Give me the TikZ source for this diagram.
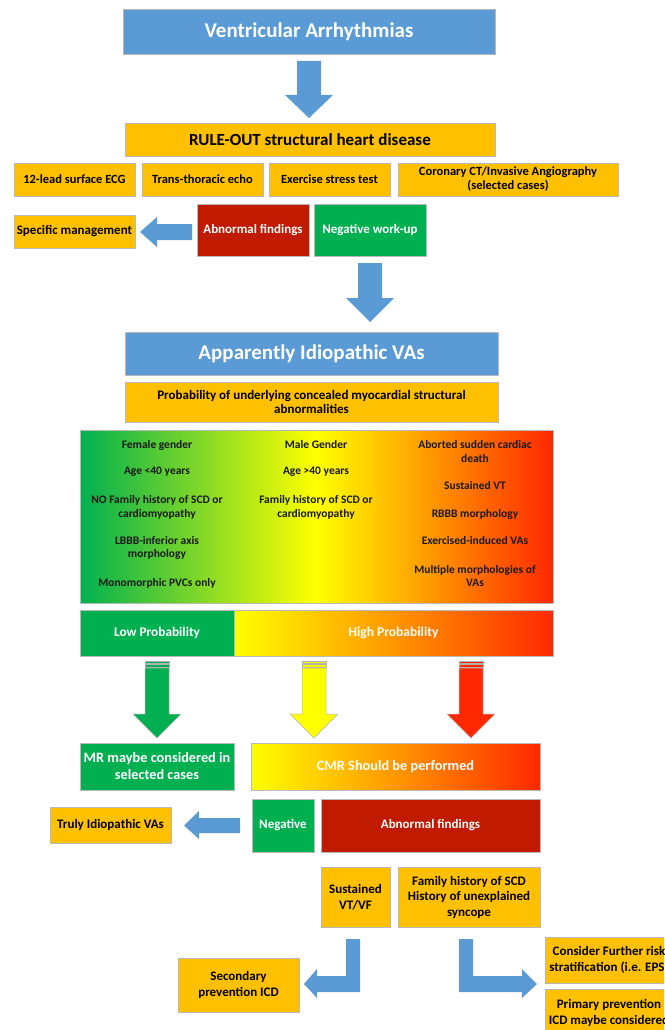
\documentclass[tikz,border=0pt]{standalone}
\usepackage{fontspec}
\setmainfont{Carlito}
\definecolor{cblue}{RGB}{91,155,213}
\definecolor{cgold}{RGB}{255,192,0}
\definecolor{cdred}{RGB}{192,26,0}
\definecolor{cgreen}{RGB}{0,176,80}
\definecolor{cyel}{RGB}{255,255,0}
\definecolor{cred}{RGB}{255,40,0}
\definecolor{corg}{RGB}{255,150,0}
\newcommand\mybox[7]{%
  \pgfmathsetmacro\bxw{#4-#2}\pgfmathsetmacro\bxh{#5-#3}%
  \pgfmathsetmacro\bxcx{(#2+#4)/2}\pgfmathsetmacro\bxcy{(#3+#5)/2}%
  \node[#6, minimum width=\bxw pt, minimum height=\bxh pt] (#1) at (\bxcx,\bxcy) {#7};}
\tikzset{
  base/.style={draw=gray!55, line width=0.6pt, inner sep=1pt, align=center, font=\bfseries\fontsize{12.5}{15}\selectfont},
  goldbox/.style={base, fill=cgold, text=black},
  bluebox/.style={base, fill=cblue, text=white, font=\bfseries\fontsize{21}{25}\selectfont},
  greenbox/.style={base, fill=cgreen, text=white},
  redbox/.style={base, fill=cdred, text=white},
  blockarrow/.style={fill=cblue, draw=none},
  colarrow/.style={draw=gray!60, line width=0.5pt},
  crit/.style={align=center, inner sep=0pt, font=\bfseries\fontsize{11.5}{13.8}\selectfont, text=black!90},
  f13/.style={font=\bfseries\fontsize{13}{15.5}\selectfont},
  f14/.style={font=\bfseries\fontsize{14.3}{17}\selectfont}
}
\begin{document}
\begin{tikzpicture}[x=1pt,y=-1pt]
\useasboundingbox (0,0) rectangle (664,1030);
\clip (0,0) rectangle (664,1030);
% top part
\mybox{title}{123}{9}{495}{54}{bluebox}{Ventricular Arrhythmias}
\fill[blockarrow] (297,61)--(321,61)--(321,95)--(333,95)--(309,118)--(285,95)--(297,95)--cycle;
\mybox{rule}{125}{123}{495}{156}{goldbox, font=\bfseries\fontsize{17}{20}\selectfont}{RULE-OUT structural heart disease}
\mybox{ecg}{14}{163}{135}{196}{goldbox}{12-lead surface ECG}
\mybox{echo}{142}{163}{263}{196}{goldbox}{Trans-thoracic echo}
\mybox{stress}{269}{163}{390}{196}{goldbox}{Exercise stress test}
\mybox{cor}{398}{163}{618}{196}{goldbox, font=\bfseries\fontsize{12.5}{14}\selectfont}{Coronary CT/Invasive Angiography\\(selected cases)}
\mybox{abn1}{197}{204}{309}{256}{redbox, f13}{Abnormal findings}
\mybox{neg1}{314}{204}{426}{256}{greenbox, f13}{Negative work-up}
\mybox{spec}{14}{215}{135}{248}{goldbox, f13}{Specific management}
\fill[blockarrow] (192,224)--(192,240)--(157,240)--(157,247)--(140,232)--(157,217)--(157,224)--cycle;
\fill[blockarrow] (358,263)--(382,263)--(382,298)--(394,298)--(370,322)--(346,298)--(358,298)--cycle;
% middle part
\mybox{app}{125}{332}{498}{375}{bluebox}{Apparently Idiopathic VAs}
\mybox{prob}{125}{382}{498}{422}{goldbox, font=\bfseries\fontsize{13}{14.5}\selectfont}{Probability of underlying concealed myocardial structural\\abnormalities}
\mybox{grad}{80}{430}{553}{603}{base, left color=cgreen, right color=cred, middle color=cyel}{}
\node[crit] (l1) at (157,445) {Female gender};
\node[crit] (l2) at (157,472) {Age <40 years};
\node[crit] (l3) at (157,507) {NO Family history of SCD or\\cardiomyopathy};
\node[crit] (l4) at (157,548) {LBBB-inferior axis\\morphology};
\node[crit] (l5) at (157,583) {Monomorphic PVCs only};
\node[crit] (m1) at (316,445) {Male Gender};
\node[crit] (m2) at (316,472) {Age >40 years};
\node[crit] (m3) at (316,507) {Family history of SCD or\\cardiomyopathy};
\node[crit] (r1) at (475,451.5) {Aborted sudden cardiac\\death};
\node[crit] (r2) at (475,486) {Sustained VT};
\node[crit] (r3) at (475,514) {RBBB morphology};
\node[crit] (r4) at (475,541) {Exercised-induced VAs};
\node[crit] (r5) at (475,576) {Multiple morphologies of\\VAs};
\mybox{low}{80}{610}{234}{656}{greenbox, font=\bfseries\fontsize{13.3}{15}\selectfont}{Low Probability}
\mybox{high}{234}{610}{553}{656}{base, left color=cyel, right color=cred, middle color=corg, text=white, font=\bfseries\fontsize{13.5}{15}\selectfont}{High Probability}
\foreach \cx/\cc in {157/cgreen, 314/cyel, 471/cred}{
  \filldraw[colarrow, fill=\cc] (\cx-12,661) rectangle (\cx+12,663.2);
  \filldraw[colarrow, fill=\cc] (\cx-12,664.6) rectangle (\cx+12,666.8);
  \filldraw[colarrow, fill=\cc] (\cx-12,668.2)--(\cx+12,668.2)--(\cx+12,714)--(\cx+24,714)--(\cx,738)--(\cx-24,714)--(\cx-12,714)--cycle;
}
\mybox{mr}{80}{743}{234}{790}{greenbox, f14}{MR maybe considered in\\selected cases}
\mybox{cmr}{251}{743}{540}{790}{base, left color=cyel, right color=cred, middle color=corg, text=white, f14}{CMR Should be performed}
\mybox{neg2}{252}{799}{314}{852}{greenbox, f13}{Negative}
\mybox{abn2}{321}{799}{540}{852}{redbox, f13}{Abnormal findings}
\mybox{truly}{50}{807}{171}{843}{goldbox, f13}{Truly Idiopathic VAs}
\fill[blockarrow] (240,818)--(240,833)--(199,833)--(199,839)--(184,825.5)--(199,811)--(199,818)--cycle;
% bottom part
\mybox{sust}{321}{867}{390}{927}{goldbox, f13}{Sustained\\VT/VF}
\mybox{fam}{398}{867}{540}{927}{goldbox, f13}{Family history of SCD\\History of unexplained\\syncope}
\mybox{sec}{178}{958}{299}{1012}{goldbox, f13}{Secondary\\prevention ICD}
\fill[blockarrow] (346,939)--(360,939)--(360,992)--(317,992)--(317,998)--(304,984)--(317,969)--(317,976)--(346,976)--cycle;
\fill[blockarrow] (459,939)--(473,939)--(473,976)--(522,976)--(522,969)--(537,984)--(522,998)--(522,992)--(459,992)--cycle;
\mybox{cons}{545}{937}{673}{983}{goldbox, f13}{Consider Further risk\\stratification (i.e. EPS)}
\mybox{prim}{545}{989}{673}{1058}{goldbox, f13}{Primary prevention\\ICD maybe considered\\[8pt]}
\end{tikzpicture}
\end{document}
